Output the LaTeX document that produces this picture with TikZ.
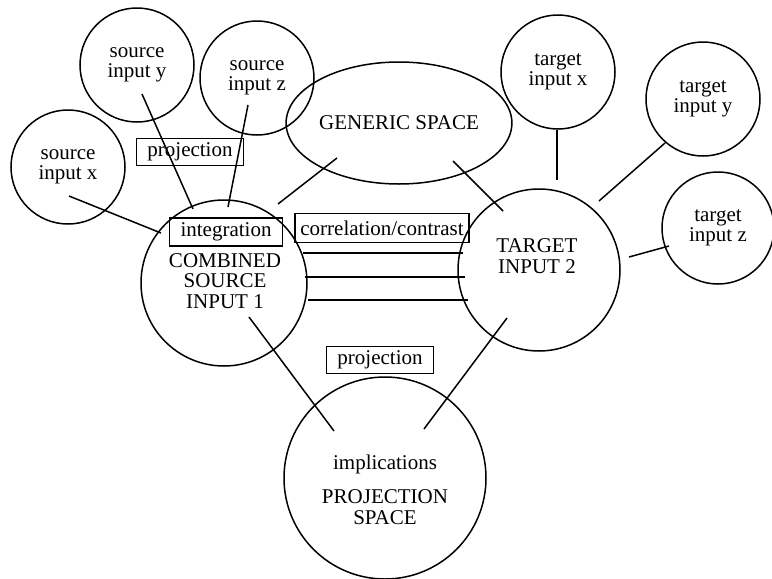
\documentclass[tikz,border=0pt]{standalone}
\usepackage{fontspec}
\setmainfont{Liberation Serif}
\usetikzlibrary{shapes.geometric}
\begin{document}
\begin{tikzpicture}[x=1pt,y=-1pt, line width=1.5pt,
  every node/.style={font=\fontsize{21}{20.5}\selectfont},
  circ/.style={draw, circle, minimum size=#1, inner sep=0pt, align=center},
  lbl/.style={draw, rectangle, inner sep=0pt, minimum height=27pt},
  txt/.style={align=center, inner sep=0pt}]
\useasboundingbox (0,0) rectangle (772,579);

% circles and ellipse
\node[circ=114pt] (sy) at (137,65) {source\\input y};
\node[circ=114pt] (sz) at (257,78) {source\\input z};
\node[circ=114pt] (sx) at (68,167) {source\\input x};
\node[circ=166pt] (comb) at (224,283) {};
\node[draw, ellipse, minimum width=202pt, minimum height=122pt, inner sep=0pt] (gen) at (399,123) {GENERIC SPACE};
\node[circ=114pt] (tx) at (558,72) {target\\input x};
\node[circ=114pt] (ty) at (703,99) {target\\input y};
\node[circ=112pt] (tz) at (718,228) {target\\input z};
\node[circ=162pt] (tgt) at (539,270) {};
\node[circ=202pt] (proj) at (385,478) {};

% texts inside big circles
\node[txt] (combt) at (225,281) {COMBINED\\SOURCE\\INPUT 1};
\node[txt] (tgtt) at (537,256) {TARGET\\INPUT 2};
\node[txt] (impl) at (385,464) {implications};
\node[txt] (projt) at (385,507) {PROJECTION\\SPACE};

% labels
\node[lbl, minimum width=107pt] (projl1) at (190,152) {projection};
\node[lbl, minimum width=113pt, minimum height=28pt] (integ) at (226,232) {integration};
\node[lbl, minimum width=174pt, minimum height=29pt] (corr) at (382,228) {correlation/contrast};
\node[lbl, minimum width=107pt] (projl2) at (380,360) {projection};

% connector end points
\coordinate (sy-a) at (142,94);  \coordinate (sy-b) at (193,209);
\coordinate (sz-a) at (248,105); \coordinate (sz-b) at (228,207);
\coordinate (sx-a) at (69,196);  \coordinate (sx-b) at (161,233);
\coordinate (cg-a) at (278,204); \coordinate (cg-b) at (337,158);
\coordinate (gt-a) at (453,161); \coordinate (gt-b) at (503,211);
\coordinate (tx-a) at (557,130); \coordinate (tx-b) at (557,180);
\coordinate (ty-a) at (665,143); \coordinate (ty-b) at (599,201);
\coordinate (tz-a) at (669,246); \coordinate (tz-b) at (629,257);
\coordinate (k1-a) at (303,253); \coordinate (k1-b) at (463,253);
\coordinate (k2-a) at (305,277); \coordinate (k2-b) at (465,277);
\coordinate (k3-a) at (308,300); \coordinate (k3-b) at (468,300);
\coordinate (cp-a) at (249,317); \coordinate (cp-b) at (334,431);
\coordinate (tp-a) at (507,318); \coordinate (tp-b) at (424,429);

\draw (sy-a) -- (sy-b);
\draw (sz-a) -- (sz-b);
\draw (sx-a) -- (sx-b);
\draw (cg-a) -- (cg-b);
\draw (gt-a) -- (gt-b);
\draw (tx-a) -- (tx-b);
\draw (ty-a) -- (ty-b);
\draw (tz-a) -- (tz-b);
\draw (k1-a) -- (k1-b);
\draw (k2-a) -- (k2-b);
\draw (k3-a) -- (k3-b);
\draw (cp-a) -- (cp-b);
\draw (tp-a) -- (tp-b);
\end{tikzpicture}
\end{document}
